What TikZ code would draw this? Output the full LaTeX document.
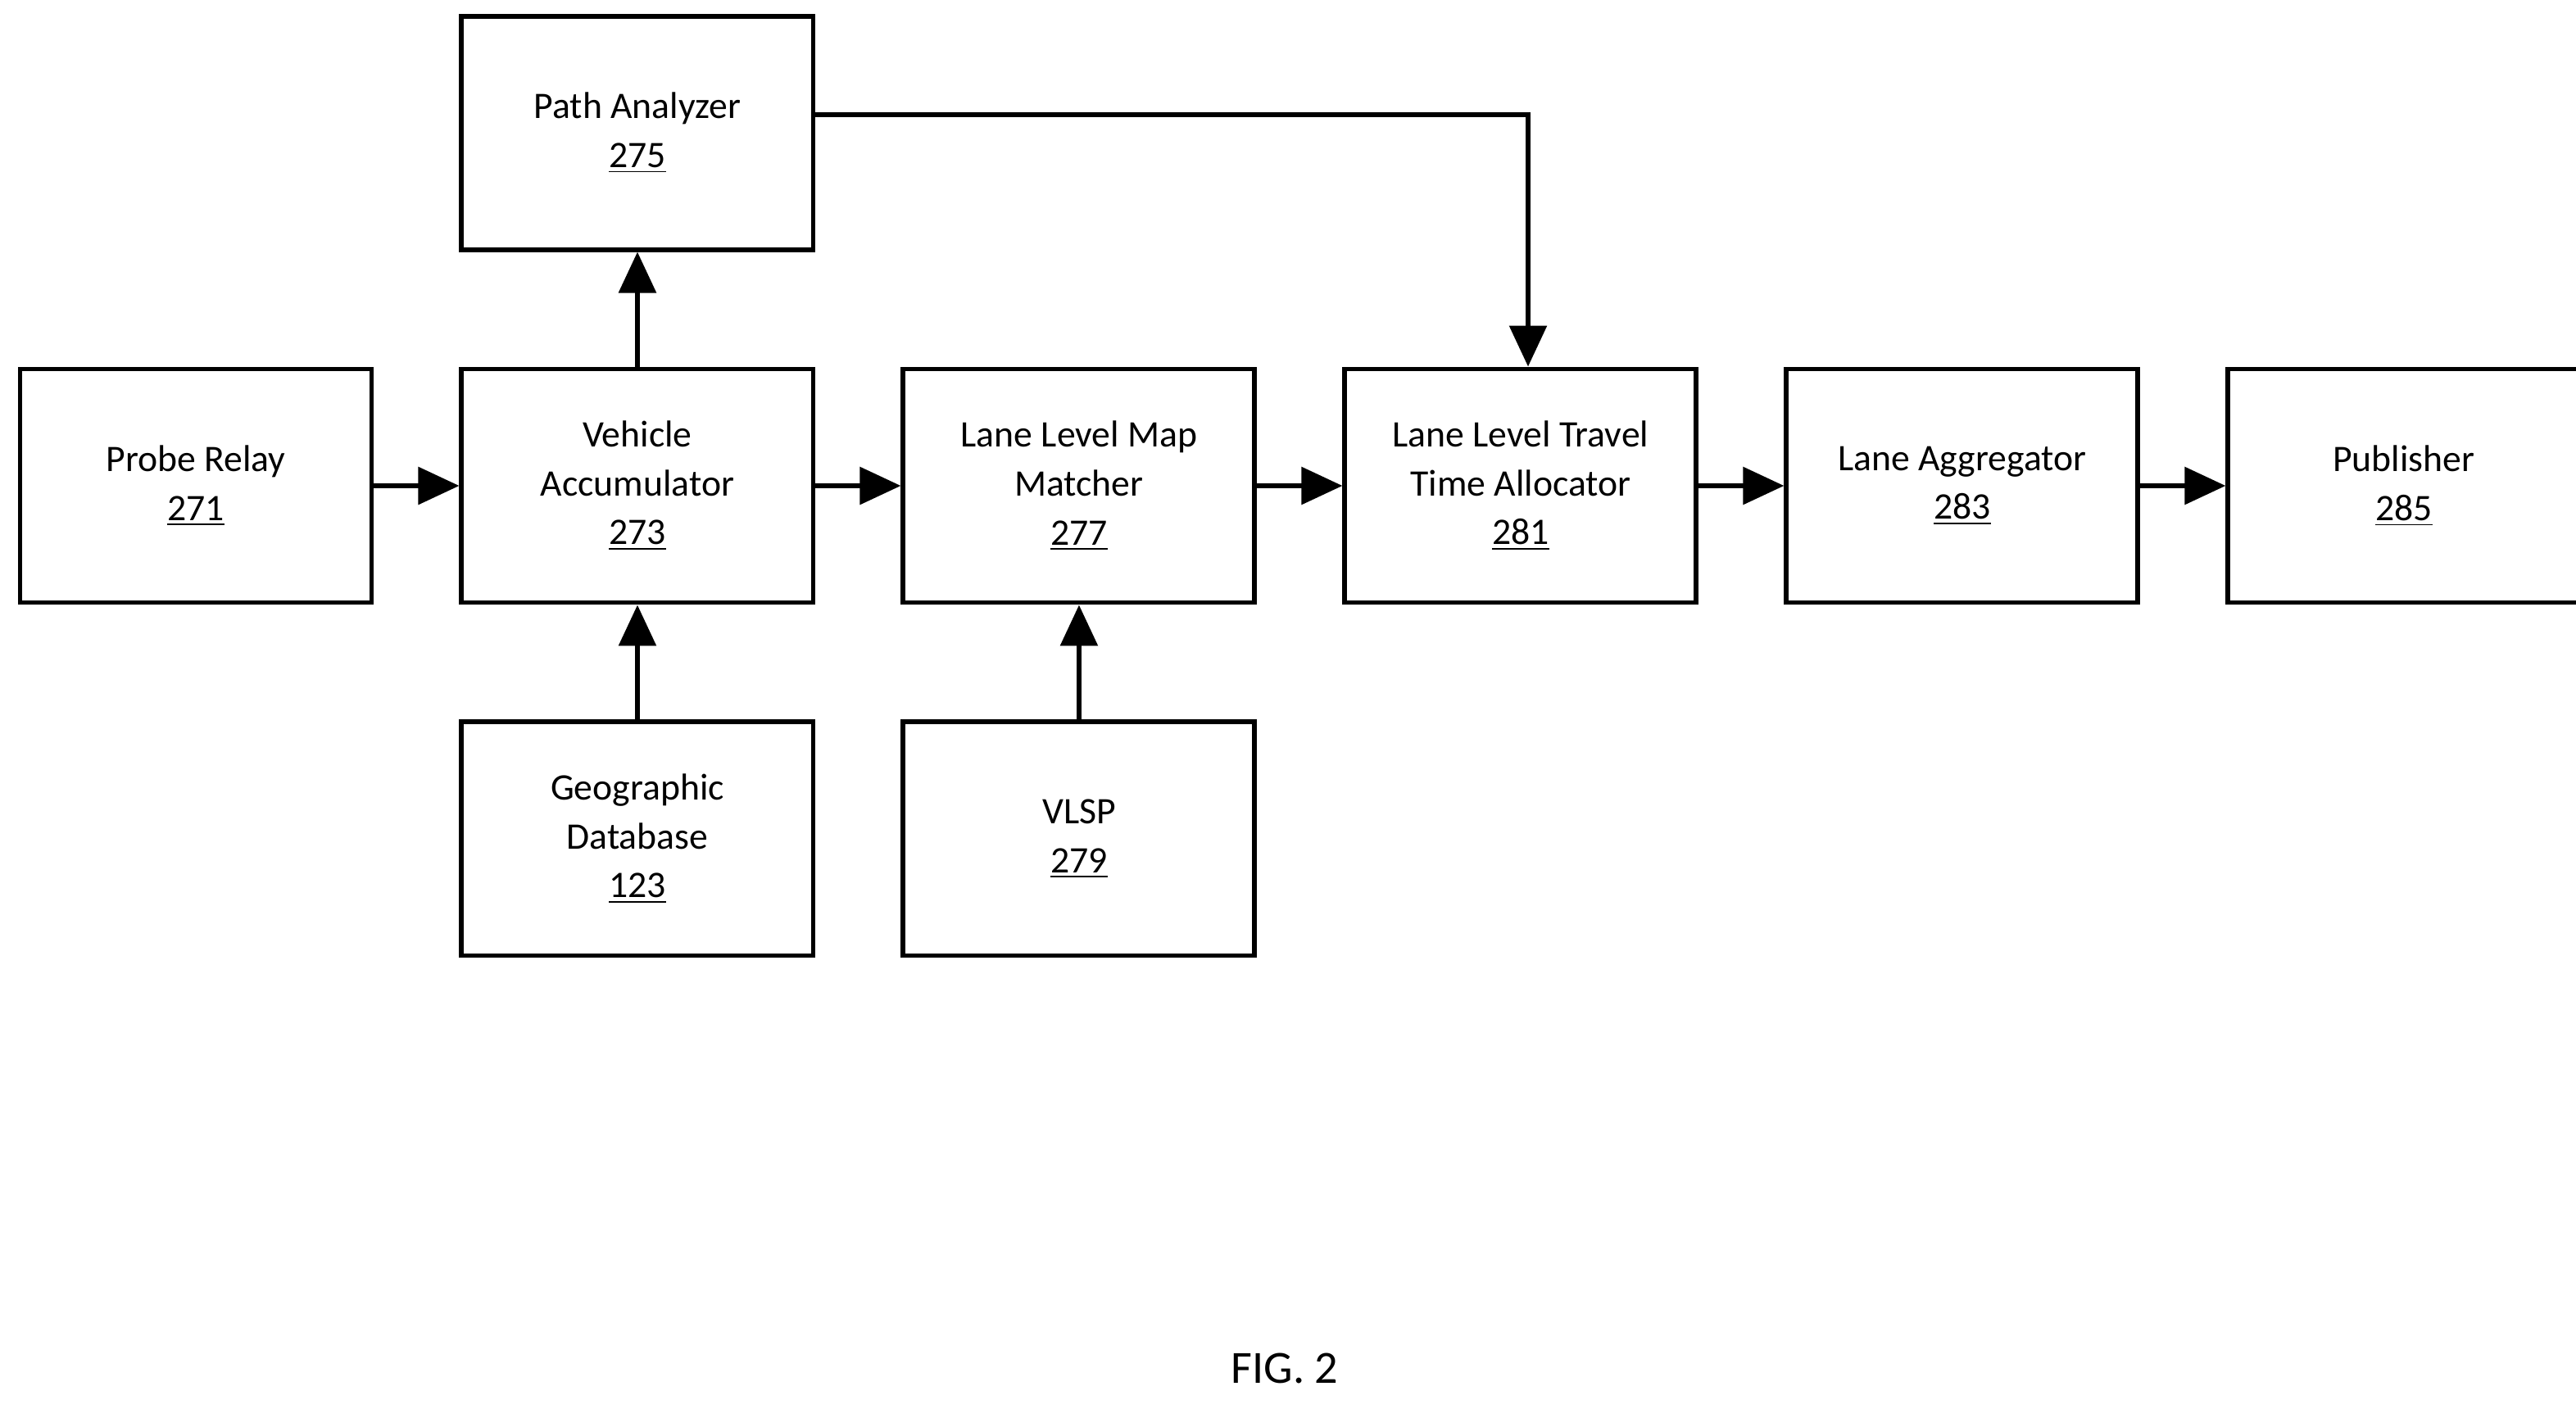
\documentclass[tikz,border=0pt]{standalone}
\usepackage{fontspec}
\setmainfont{Carlito}
\usetikzlibrary{positioning,arrows.meta}
\begin{document}
\begin{tikzpicture}
        \tikzstyle{block} = [draw, line width=1.7pt, minimum width=4.29cm, minimum height=2.85cm, align=center, font=\fontsize{13}{17}\selectfont]
        \tikzstyle{flow} = [line width=1.7pt, -{Triangle[length=0.5cm,width=0.45cm]}]

		\useasboundingbox (0,0) rectangle (31.44,17.19);

		\node[block] (relay) at (2.39,11.26) {Probe Relay\\\underline{271}};
		\node[block, right=1.04cm of relay] (accum) {Vehicle\\Accumulator\\\underline{273}};
		\node[block, right=1.04cm of accum] (matcher) {Lane Level Map\\Matcher\\\underline{277}};
		\node[block, right=1.04cm of matcher] (alloc) {Lane Level Travel\\Time Allocator\\\underline{281}};
		\node[block, right=1.04cm of alloc] (aggr) {Lane Aggregator\\\underline{283}};
		\node[block, right=1.04cm of aggr] (pub) {Publisher\\\underline{285}};
		\node[block, above=1.4cm of accum] (path) {Path Analyzer\\\underline{275}};
		\node[block, below=1.4cm of accum] (geo) {Geographic\\Database\\\underline{123}};
		\node[block, below=1.4cm of matcher] (vlsp) {VLSP\\\underline{279}};
		\node[font=\fontsize{16}{19}\selectfont] (fig) at (15.68,0.49) {FIG. 2};

		\coordinate (turn) at (18.65,15.79);

		\draw[flow] (relay) -- (accum);
		\draw[flow] (accum) -- (matcher);
		\draw[flow] (matcher) -- (alloc);
		\draw[flow] (alloc) -- (aggr);
		\draw[flow] (aggr) -- (pub);
		\draw[flow] (accum) -- (path);
		\draw[flow] (geo) -- (accum);
		\draw[flow] (vlsp) -- (matcher);
		\draw[flow] (path.east |- turn) -- (turn) -- (turn |- alloc.north);

    \end{tikzpicture}
\end{document}
